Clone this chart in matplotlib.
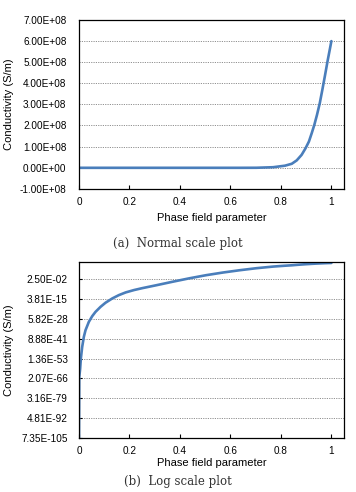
import matplotlib
matplotlib.use("Agg")
import matplotlib.pyplot as plt
from matplotlib.ticker import FixedLocator, NullLocator

# ---- data ----
phase = [0.0, 0.001, 0.0046, 0.0073, 0.0126, 0.0192, 0.0258, 0.039, 0.0523,
         0.0655, 0.0854, 0.105, 0.132, 0.158, 0.185, 0.218, 0.25, 0.306,
         0.372, 0.438, 0.504, 0.57, 0.637, 0.703, 0.769, 0.816, 0.843,
         0.8626, 0.882, 0.898, 0.911, 0.922, 0.9325, 0.943, 0.954, 0.964,
         0.975, 0.9857, 0.9946, 1.0]
conductivity = [7.35e-105, 1.5e-65, 4e-60, 1e-53, 4e-46, 1.3e-39, 2.5e-35,
                6e-30, 2.8e-26, 1.8e-23, 3e-20, 1.3e-17, 8e-15, 1.1e-12,
                6e-11, 2e-9, 3.2e-8, 2.5e-6, 5e-4, 8e-2, 8.0, 4e2, 1.25e4,
                2.5e5, 2.8e6, 1e7, 1.9e7, 3.5e7, 6.1e7, 9.3e7, 1.24e8, 1.63e8,
                2.03e8, 2.5e8, 3.05e8, 3.67e8, 4.38e8, 5.09e8, 5.64e8, 5.98e8]

x_ticks = [0, 0.2, 0.4, 0.6, 0.8, 1.0]
x_tick_labels = ["0", "0.2", "0.4", "0.6", "0.8", "1"]
normal_ticks = [-1e8, 0, 1e8, 2e8, 3e8, 4e8, 5e8, 6e8, 7e8]
normal_tick_labels = ["-1.00E+08", "0.00E+00", "1.00E+08", "2.00E+08", "3.00E+08",
                      "4.00E+08", "5.00E+08", "6.00E+08", "7.00E+08"]
log_ticks = [7.35e-105, 4.81e-92, 3.16e-79, 2.07e-66, 1.36e-53, 8.88e-41,
             5.82e-28, 3.81e-15, 2.50e-02]
log_tick_labels = ["7.35E-105", "4.81E-92", "3.16E-79", "2.07E-66", "1.36E-53",
                   "8.88E-41", "5.82E-28", "3.81E-15", "2.50E-02"]

x_label = "Phase field parameter"
y_label = "Conductivity (S/m)"
captions = ["(a)  Normal scale plot", "(b)  Log scale plot"]

plt.rcParams["font.family"] = ["Liberation Sans", "DejaVu Sans"]

W, H = 356, 492
fig = plt.figure(figsize=(W / 100, H / 100), dpi=100)

def px_axes(l, t, r, b):
    return fig.add_axes([l / W, 1 - b / H, (r - l) / W, (b - t) / H])

line_color = "#4a7ebb"
tick_fs = 7.2
label_fs = 8.0

def style(ax, xlabelpad):
    for s in ax.spines.values():
        s.set_color("black")
        s.set_linewidth(0.9)
    ax.set_xlim(0, 1.05)
    ax.xaxis.set_major_locator(FixedLocator(x_ticks))
    ax.set_xticklabels(x_tick_labels)
    ax.xaxis.set_minor_locator(NullLocator())
    ax.tick_params(axis="x", direction="in", length=3, width=0.8,
                   labelsize=tick_fs, pad=6)
    ax.yaxis.grid(True, linestyle=(0, (1.2, 1.2)), color="#909090", linewidth=0.7)
    ax.set_axisbelow(True)
    ax.set_xlabel(x_label, fontsize=label_fs, labelpad=xlabelpad)
    ax.set_ylabel(y_label, fontsize=label_fs)

# (a) normal scale
ax1 = px_axes(79, 19.5, 344, 189)
ax1.plot(phase, conductivity, color=line_color, linewidth=1.9,
         solid_capstyle="round", solid_joinstyle="round")
ax1.set_ylim(-1e8, 7e8)
ax1.yaxis.set_major_locator(FixedLocator(normal_ticks))
ax1.set_yticklabels(normal_tick_labels)
ax1.tick_params(axis="y", length=0, labelsize=tick_fs, pad=9)
style(ax1, 4)
ax1.yaxis.set_label_coords(-0.245, 0.5)

# (b) log scale
ax2 = px_axes(79, 262, 344, 438)
ax2.plot(phase, conductivity, color=line_color, linewidth=1.9,
         solid_capstyle="round", solid_joinstyle="round")
ax2.set_yscale("log")
ax2.set_ylim(7.35e-105, 10 ** 9.4)
ax2.yaxis.set_major_locator(FixedLocator(log_ticks))
ax2.set_yticklabels(log_tick_labels)
ax2.yaxis.set_minor_locator(NullLocator())
ax2.tick_params(axis="y", direction="in", length=2.5, width=0.8,
                labelsize=tick_fs, pad=8)
style(ax2, 1)
ax2.yaxis.set_label_coords(-0.245, 0.5)

fig.text(178 / W, 1 - 243 / H, captions[0], ha="center", va="center",
         family="DejaVu Serif", fontsize=8.5, color="#333333")
fig.text(178 / W, 1 - 482 / H, captions[1], ha="center", va="center",
         family="DejaVu Serif", fontsize=8.5, color="#333333")

fig.savefig("out.png", dpi=100, facecolor="white")
